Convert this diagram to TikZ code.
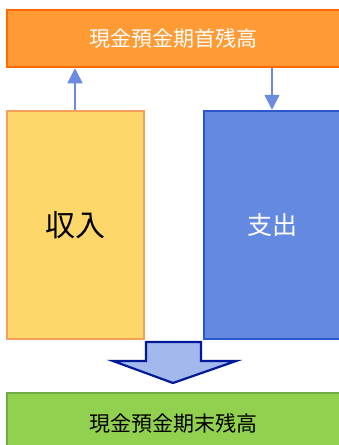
\documentclass[tikz,border=0pt]{standalone}
\usepackage{fontspec}
\setmainfont{Noto Sans CJK JP}
\usetikzlibrary{arrows.meta}
\definecolor{topfill}{HTML}{FF9A35}
\definecolor{topdraw}{HTML}{FF6A00}
\definecolor{yelfill}{HTML}{FDD76A}
\definecolor{yeldraw}{HTML}{F5A05A}
\definecolor{bluefill}{HTML}{6389E0}
\definecolor{bluedraw}{HTML}{2A58CC}
\definecolor{linkcol}{HTML}{6A8BE0}
\definecolor{bigfill}{HTML}{A3B8EC}
\definecolor{bigdraw}{HTML}{001A99}
\definecolor{grnfill}{HTML}{92D050}
\definecolor{grndraw}{HTML}{70AD47}
\tikzset{
  boxbase/.style={rectangle, inner sep=0pt, line width=2.5pt},
  link/.style={draw=linkcol, line width=1.6pt, -{Triangle[width=15pt,length=15pt]}}
}
\begin{document}
\begin{tikzpicture}[x=1pt,y=-1pt]
\useasboundingbox (0,0) rectangle (339,445);
\node[boxbase, fill=topfill, draw=topdraw, minimum width=333pt, minimum height=57pt, text=white, font=\fontsize{21}{24}\selectfont] (top) at (173.5,38.5) {現金預金期首残高};
\node[boxbase, fill=yelfill, draw=yeldraw, minimum width=137pt, minimum height=228pt, text=black, font=\fontsize{30}{33}\selectfont] (inc) at (75.5,225) {収入};
\node[boxbase, fill=bluefill, draw=bluedraw, minimum width=136pt, minimum height=228pt, text=white, font=\fontsize{25}{28}\selectfont] (exp) at (272,225) {支出};
\node[boxbase, fill=grnfill, draw=grndraw, minimum width=333pt, minimum height=60pt, text=black, font=\fontsize{21}{24}\selectfont] (end) at (173.5,423) {現金預金期末残高};
\draw[link] (inc.north -| 75,0) -- (top.south -| 75,0);
\draw[link] (top.south -| 272,0) -- (exp.north -| 272,0);
\coordinate (bt) at (173,383);
\draw[fill=bigfill, draw=bigdraw, line width=2.2pt, line join=miter]
  (146,342) -- (201,342) -- (201,361) -- (236,361) -- (bt) -- (113,361) -- (146,361) -- cycle;
\end{tikzpicture}
\end{document}
